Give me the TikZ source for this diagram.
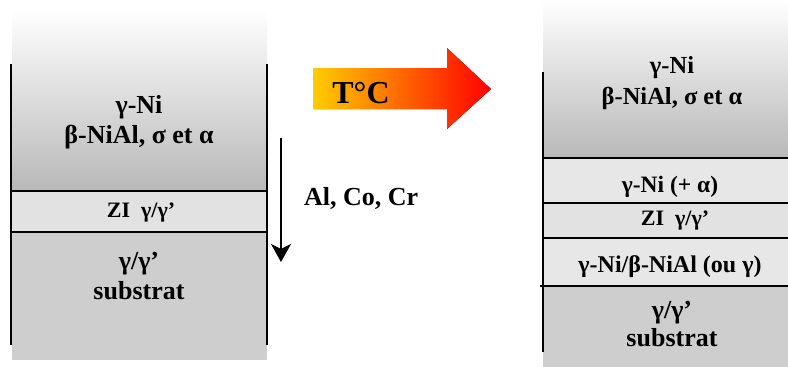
\documentclass[tikz,border=0pt]{standalone}
\usepackage{fontspec}
\setmainfont{Liberation Serif}[BoldFont={Liberation Serif Bold}]
\usetikzlibrary{arrows.meta,positioning}
\definecolor{layergray}{RGB}{184,184,184}
\definecolor{zigray}{RGB}{226,226,226}
\definecolor{subgray}{RGB}{206,206,206}
\definecolor{palegray}{RGB}{231,231,231}
\definecolor{heatyellow}{RGB}{255,204,0}
\definecolor{heatred}{RGB}{255,0,0}

\tikzset{
  layertext/.style={font=\rmfamily\bfseries\fontsize{26}{30}\selectfont,align=center,inner sep=0pt},
  thintext/.style={font=\rmfamily\bfseries\fontsize{22}{24}\selectfont,align=center,inner sep=0pt},
  border/.style={line width=1.5pt},
  diffusion/.style={line width=1.2pt,-{Stealth[length=18pt,width=20pt,inset=5pt]}}
}

\begin{document}
\begin{tikzpicture}[x=1pt,y=-1pt]
  \useasboundingbox (0,0) rectangle (788,367);

  % left stack, before heating
  \shade[top color=white,bottom color=layergray] (12,10) rectangle (267,191);
  \fill[zigray] (12,191) rectangle (267,232);
  \fill[subgray] (12,232) rectangle (267,360);
  \draw[border] (11,64) -- (11,345);
  \draw[border] (267,64) -- (267,345);
  \draw[border] (11,191) -- (267,191);
  \draw[border] (11,232) -- (267,232);

  \node[layertext] (lcoat) at (139,122) {γ-Ni\\β-NiAl, σ et α};
  \node[thintext] (lzi) at (141,213) {ZI\ \ γ/γ’};
  \node[layertext] (lsub) at (139,276) {γ/γ’\\substrat};

  % diffusion
  \coordinate (dtop) at (281,138);
  \coordinate (dbot) at (281,262);
  \draw[diffusion] (dtop) -- (dbot);
  \node[layertext,anchor=west] (elem) at (304,198) {Al, Co, Cr};

  % heating arrow
  \fill[left color=heatyellow,right color=heatred]
    (313,68) -- (447,68) -- (447,48) -- (491,89) -- (447,129)
    -- (447,109) -- (313,109) -- cycle;
  \node[font=\rmfamily\bfseries\fontsize{32}{36}\selectfont,inner sep=0pt] (temp) at (361,93) {T°C};

  % right stack, after heating
  \shade[top color=white,bottom color=layergray] (543,0) rectangle (788,158);
  \fill[palegray] (543,158) rectangle (788,203);
  \fill[zigray] (543,203) rectangle (788,238);
  \fill[palegray] (543,238) rectangle (788,286);
  \fill[subgray] (543,286) rectangle (788,367);
  \draw[border] (543,72) -- (543,352);
  \draw[border] (543,158) -- (788,158);
  \draw[border] (543,203) -- (788,203);
  \draw[border] (543,238) -- (788,238);
  \draw[border] (540,286) -- (788,286);

  \node[layertext,font=\rmfamily\bfseries\fontsize{24.5}{31}\selectfont] (rcoat) at (672,83) {γ-Ni\\β-NiAl, σ et α};
  \node[layertext,font=\rmfamily\bfseries\fontsize{23.5}{24}\selectfont] (rni) at (670,187) {γ-Ni (+ α)};
  \node[thintext] (rzi) at (675,221) {ZI\ \ γ/γ’};
  \node[layertext,font=\rmfamily\bfseries\fontsize{24}{24}\selectfont] (rmix) at (670,267) {γ-Ni/β-NiAl (ou γ)};
  \node[layertext,font=\rmfamily\bfseries\fontsize{26}{28}\selectfont] (rsub) at (672,324) {γ/γ’\\substrat};
\end{tikzpicture}
\end{document}
